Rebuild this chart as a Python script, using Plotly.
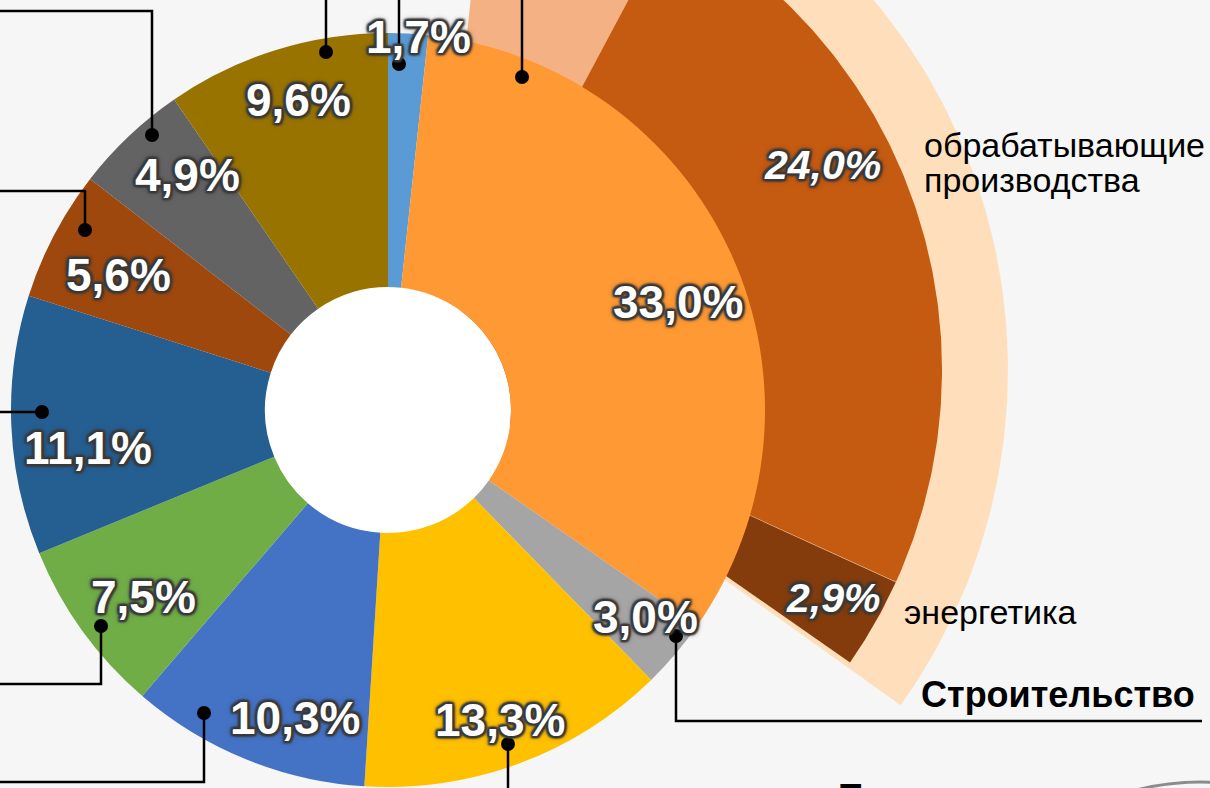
import numpy as np
import plotly.graph_objects as go

W, H = 1210, 788
BG = "#f6f6f6"

# main donut, clockwise from 12 o'clock
shares = [1.7, 33.0, 3.0, 13.3, 10.3, 7.5, 11.1, 5.6, 4.9, 9.6]
colors = ["#5b9bd5", "#ff9933", "#a5a5a5", "#ffc000", "#4472c4",
          "#70ad47", "#255e91", "#9e480e", "#636363", "#997300"]
# only this category name is visible in the crop (3,0% slice)
bold_name = "Строительство"

# breakdown of the 33,0% slice
sub_names = ["", "обрабатывающие\nпроизводства", "энергетика"]
sub_shares = [6.1, 24.0, 2.9]
sub_colors = ["#f4b183", "#c55a11", "#843c0c"]
band_color = "#ffdfbb"

# geometry (pixels)
CX, CY, R, R_HOLE = 388, 410, 377, 123
EX, EY, R_SUB, R_BAND = 431, 370, 511, 577


def fmt(v):
    return f"{v:.1f}".replace(".", ",") + "%"


def dom(cx, cy, r):
    return dict(x=[(cx - r) / W, (cx + r) / W], y=[1 - (cy + r) / H, 1 - (cy - r) / H])


def sector(cx, cy, r, a0, a1, n=160):
    t = np.radians(np.linspace(a0, a1, n))
    xs = np.concatenate([[cx], cx + r * np.sin(t), [cx]])
    ys = np.concatenate([[cy], cy - r * np.cos(t), [cy]])
    return xs, ys


fig = go.Figure()

# exploded ring for the 33,0% slice
g0 = shares[0] * 3.6
g1 = (shares[0] + shares[1]) * 3.6
xs, ys = sector(EX, EY, R_BAND, g0, g1 + 0.6)
fig.add_trace(go.Scatter(x=xs, y=ys, fill="toself", fillcolor=band_color, mode="lines",
                         line=dict(width=0), hoverinfo="skip"))
edges = np.concatenate([[0], np.cumsum(sub_shares)]) * 3.6 + g0
for i, c in enumerate(sub_colors):
    xs, ys = sector(EX, EY, R_SUB, edges[i], edges[i + 1])
    fig.add_trace(go.Scatter(x=xs, y=ys, fill="toself", fillcolor=c, mode="lines",
                             line=dict(width=0), hoverinfo="skip"))

# white centre, then the donut itself
fig.add_trace(go.Pie(values=[1], marker=dict(colors=["#ffffff"]), textinfo="none",
                     hoverinfo="skip", domain=dom(CX, CY, R_HOLE)))
fig.add_trace(go.Pie(values=shares, marker=dict(colors=colors, line=dict(width=0)),
                     sort=False, direction="clockwise", rotation=0, hole=R_HOLE / R,
                     textinfo="none", hoverinfo="skip", domain=dom(CX, CY, R)))

# dark halo round the white numbers
gc = "#3a3a3a"
glow = ", ".join([f"{dx}px {dy}px 2px {gc}" for dx, dy in
                  [(2, 0), (-2, 0), (0, 2), (0, -2), (2, 2), (-2, -2), (2, -2), (-2, 2)]]
                 + [f"0px 0px 6px {gc}"])
pct_pos = [(418, 37), (678, 302), (645, 617), (500, 720), (295, 718),
           (143, 597), (88, 448), (118, 275), (187, 175), (298, 100)]
sub_pos = [None, (822, 165), (833, 598)]


def note(x, y, text, font, xanchor="center", yanchor="middle"):
    return dict(x=x / W, y=1 - y / H, xref="paper", yref="paper", text=text,
                showarrow=False, font=font, xanchor=xanchor, yanchor=yanchor)


ann = []
for v, (x, y) in zip(shares, pct_pos):
    ann.append(note(x, y, fmt(v), dict(family="Liberation Sans, Arial", size=46,
                                       color="white", weight="bold", shadow=glow)))
for v, p in zip(sub_shares, sub_pos):
    if p:
        ann.append(note(p[0], p[1], fmt(v), dict(family="Liberation Sans, Arial", size=41,
                                                 color="white", weight="bold",
                                                 style="italic", shadow=glow)))

black = dict(family="Liberation Sans, Arial", size=34, color="black")
l1, l2 = sub_names[1].split("\n")
for txt, x, y in [(l1, 922, 145), (l2, 922, 180), (sub_names[2], 902, 612)]:
    ann.append(note(x, y, txt, black, xanchor="left"))
ann.append(note(919, 694, bold_name, dict(black, size=36, weight="bold"), xanchor="left"))
ann.append(note(838, 795, "Т", dict(black, size=35, weight="bold"), xanchor="left"))

# leader lines to labels outside the crop
leaders = [
    [(399, 64), (399, -5)],
    [(522, 77), (522, -5)],
    [(326, 52), (326, -5)],
    [(152, 135), (152, 11), (-5, 11)],
    [(85, 230), (85, 191), (-5, 191)],
    [(42, 412), (-5, 412)],
    [(101, 626), (101, 684), (-5, 684)],
    [(204, 713), (204, 782), (-5, 782)],
    [(508, 744), (508, 795)],
    [(676, 636), (676, 721), (1202, 721)],
]
shapes = []
for pts in leaders:
    path = "M " + " L ".join(f"{x},{y}" for x, y in pts)
    shapes.append(dict(type="path", path=path, xref="x", yref="y", layer="above",
                       line=dict(color="black", width=2.5)))
    x, y = pts[0]
    shapes.append(dict(type="circle", xref="x", yref="y", layer="above",
                       x0=x - 7, x1=x + 7, y0=y - 7, y1=y + 7,
                       fillcolor="black", line=dict(width=0)))
shapes.append(dict(type="circle", xref="x", yref="y", layer="above",
                   x0=945, x1=1455, y0=782, y1=1292, line=dict(color="#8c8c8c", width=3)))

fig.update_layout(
    width=W, height=H, margin=dict(l=0, r=0, t=0, b=0),
    paper_bgcolor=BG, plot_bgcolor=BG, showlegend=False,
    xaxis=dict(range=[0, W], visible=False, fixedrange=True),
    yaxis=dict(range=[H, 0], visible=False, fixedrange=True),
    annotations=ann, shapes=shapes,
)

fig.write_html("out.html", config={"displayModeBar": False},
               post_script="document.body.style.margin='0';")
